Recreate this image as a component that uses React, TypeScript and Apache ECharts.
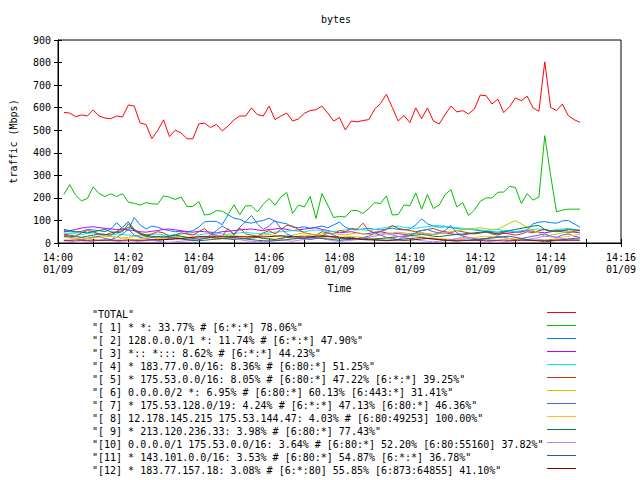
import React, { useEffect, useRef } from "react";
import * as echarts from "echarts";

const FONT = '"DejaVu Sans Mono", monospace';

const SAMPLE_STEP = 10; // seconds between samples
const FIRST_SAMPLE = 10; // first sample at 14:00:10

const xTickMinutes = ["14:00", "14:01", "14:02", "14:03", "14:04", "14:05", "14:06", "14:07", "14:08", "14:09", "14:10", "14:11", "14:12", "14:13", "14:14", "14:15", "14:16"];
const dateLabel = "01/09";

const seriesNames = [
  '"TOTAL"',
  '"[ 1] * *: 33.77% # [6:*:*] 78.06%"',
  '"[ 2] 128.0.0.0/1 *: 11.74% # [6:*:*] 47.90%"',
  '"[ 3] *:: *::: 8.62% # [6:*:*] 44.23%"',
  '"[ 4] * 183.77.0.0/16: 8.36% # [6:80:*] 51.25%"',
  '"[ 5] * 175.53.0.0/16: 8.05% # [6:80:*] 47.22% [6:*:*] 39.25%"',
  '"[ 6] 0.0.0.0/2 *: 6.95% # [6:80:*] 60.13% [6:443:*] 31.41%"',
  '"[ 7] * 175.53.128.0/19: 4.24% # [6:*:*] 47.13% [6:80:*] 46.36%"',
  '"[ 8] 12.178.145.215 175.53.144.47: 4.03% # [6:80:49253] 100.00%"',
  '"[ 9] * 213.120.236.33: 3.98% # [6:80:*] 77.43%"',
  '"[10] 0.0.0.0/1 175.53.0.0/16: 3.64% # [6:80:*] 52.20% [6:80:55160] 37.82%"',
  '"[11] * 143.101.0.0/16: 3.53% # [6:80:*] 54.87% [6:*:*] 36.78%"',
  '"[12] * 183.77.157.18: 3.08% # [6:*:80] 55.85% [6:873:64855] 41.10%"',
];

const seriesColors = ["#ff0000", "#00c000", "#0080ff", "#c000ff", "#00eeee", "#c04000", "#c8c800", "#4169e1", "#ffc020", "#008040", "#c080ff", "#306080", "#8b0000"];

const total = [
  579, 576, 560, 568, 563, 590, 563, 554, 551, 563,
  559, 612, 607, 532, 525, 463, 499, 546, 472, 500,
  488, 462, 462, 528, 531, 512, 526, 497, 518, 546,
  563, 563, 599, 569, 563, 607, 547, 563, 576, 541,
  550, 575, 587, 591, 607, 576, 541, 556, 501, 541,
  537, 543, 547, 594, 619, 659, 601, 541, 565, 534,
  599, 551, 599, 541, 528, 569, 607, 581, 587, 572,
  594, 656, 653, 616, 638, 578, 604, 643, 631, 651,
  599, 584, 803, 601, 587, 616, 565, 547, 535,
];
const s1 = [
  215, 259, 212, 187, 197, 249, 219, 206, 218, 206,
  219, 181, 176, 168, 179, 174, 172, 209, 203, 193,
  204, 162, 162, 184, 124, 128, 144, 141, 126, 169,
  126, 165, 165, 138, 172, 197, 168, 204, 224, 131,
  168, 160, 206, 109, 219, 168, 113, 118, 115, 144,
  144, 131, 153, 179, 175, 209, 124, 126, 169, 165,
  222, 150, 215, 153, 168, 215, 237, 160, 179, 122,
  146, 185, 200, 200, 225, 226, 251, 246, 175, 219,
  190, 204, 476, 300, 138, 146, 150, 150, 150,
];
const s2 = [
  55, 50, 48, 52, 60, 58, 55, 50, 62, 90,
  65, 58, 113, 80, 62, 75, 70, 60, 55, 50,
  52, 48, 55, 70, 94, 96, 96, 81, 125, 110,
  105, 92, 88, 95, 100, 110, 96, 90, 85, 70,
  68, 72, 65, 70, 75, 68, 80, 93, 70, 60,
  58, 62, 65, 60, 58, 62, 66, 60, 58, 62,
  80, 107, 85, 75, 70, 72, 68, 65, 60, 62,
  58, 55, 52, 50, 48, 52, 55, 50, 48, 60,
  85, 92, 95, 90, 88, 98, 100, 85, 70,
];
const s3 = [
  50, 55, 60, 66, 70, 72, 68, 65, 62, 60,
  60, 58, 55, 50, 48, 52, 55, 60, 62, 58,
  55, 50, 48, 52, 50, 48, 45, 50, 52, 55,
  58, 60, 62, 58, 55, 60, 62, 65, 60, 55,
  58, 62, 65, 68, 60, 55, 50, 45, 48, 50,
  45, 40, 42, 48, 50, 45, 40, 42, 38, 40,
  42, 45, 40, 38, 42, 45, 40, 38, 35, 40,
  42, 45, 48, 45, 40, 42, 45, 48, 50, 55,
  52, 48, 45, 50, 55, 58, 52, 48, 45,
];
const s4 = [
  45, 42, 40, 38, 42, 45, 40, 38, 35, 40,
  38, 35, 32, 30, 35, 38, 40, 36, 34, 38,
  40, 42, 38, 35, 40, 42, 45, 40, 38, 42,
  45, 48, 44, 42, 40, 45, 48, 50, 52, 55,
  52, 50, 55, 58, 55, 52, 50, 55, 58, 60,
  62, 58, 55, 60, 65, 70, 72, 75, 70, 68,
  65, 70, 72, 75, 78, 74, 70, 68, 65, 62,
  60, 58, 55, 58, 60, 55, 52, 50, 55, 58,
  60, 62, 58, 55, 60, 62, 65, 60, 58,
];
const s5 = [
  40, 35, 30, 45, 55, 50, 40, 35, 45, 50,
  55, 70, 60, 45, 35, 40, 50, 45, 30, 35,
  45, 40, 35, 50, 64, 40, 35, 30, 64, 35,
  66, 40, 35, 30, 45, 55, 40, 60, 78, 75,
  60, 45, 40, 35, 50, 45, 40, 55, 50, 65,
  60, 88, 55, 45, 50, 60, 78, 65, 60, 55,
  50, 55, 60, 65, 55, 50, 45, 55, 50, 45,
  40, 45, 50, 40, 35, 45, 40, 35, 40, 50,
  45, 55, 60, 50, 55, 50, 45, 52, 55,
];
const s6 = [
  25, 28, 30, 25, 22, 28, 30, 35, 28, 25,
  22, 25, 30, 35, 28, 25, 22, 20, 25, 30,
  28, 25, 22, 25, 30, 28, 25, 30, 35, 32,
  30, 28, 25, 30, 35, 38, 32, 30, 28, 35,
  40, 45, 38, 35, 40, 45, 42, 38, 35, 40,
  45, 42, 38, 35, 40, 42, 45, 48, 45, 40,
  42, 45, 40, 38, 42, 45, 50, 55, 58, 62,
  65, 68, 63, 60, 62, 75, 88, 99, 85, 70,
  55, 45, 30, 35, 40, 45, 50, 55, 60,
];
const s7 = [
  30, 25, 20, 15, 20, 25, 30, 20, 15, 25,
  40, 60, 35, 25, 20, 15, 10, 15, 20, 25,
  20, 15, 10, 15, 20, 35, 55, 75, 60, 40,
  70, 95, 122, 85, 60, 75, 100, 65, 40, 30,
  25, 20, 15, 20, 30, 45, 35, 25, 20, 15,
  20, 25, 30, 45, 35, 25, 20, 15, 30, 35,
  45, 55, 60, 50, 45, 55, 78, 45, 30, 25,
  20, 15, 20, 25, 30, 25, 20, 15, 20, 25,
  30, 35, 40, 30, 25, 35, 40, 30, 25,
];
const s8 = [
  25, 22, 20, 18, 20, 22, 25, 28, 30, 25,
  20, 18, 15, 18, 22, 25, 20, 18, 15, 20,
  22, 25, 28, 25, 20, 18, 15, 18, 20, 22,
  25, 28, 30, 25, 22, 20, 18, 22, 25, 28,
  30, 35, 32, 28, 25, 22, 20, 25, 28, 30,
  28, 25, 22, 20, 18, 22, 25, 28, 30, 32,
  30, 28, 25, 22, 20, 18, 15, 18, 20, 22,
  25, 28, 30, 28, 25, 22, 20, 18, 15, 12,
  10, 8, 12, 15, 20, 25, 30, 35, 38,
];
const s9 = [
  60, 55, 50, 48, 45, 50, 55, 60, 50, 45,
  50, 85, 55, 40, 35, 30, 28, 25, 30, 35,
  30, 25, 20, 18, 20, 25, 22, 20, 18, 15,
  18, 20, 22, 25, 20, 18, 15, 20, 25, 22,
  20, 18, 22, 25, 28, 30, 25, 20, 22, 25,
  20, 18, 15, 18, 20, 22, 25, 28, 30, 32,
  35, 38, 35, 30, 28, 32, 35, 38, 40, 42,
  45, 48, 50, 45, 42, 48, 55, 60, 65, 70,
  75, 78, 60, 55, 50, 55, 60, 58, 55,
];
const s10 = [
  10, 8, 5, 3, 5, 8, 12, 15, 10, 8,
  5, 3, 5, 8, 10, 12, 8, 5, 3, 5,
  8, 10, 15, 20, 25, 30, 35, 30, 25, 20,
  15, 10, 8, 5, 8, 10, 12, 15, 10, 8,
  12, 15, 20, 25, 20, 15, 10, 8, 10, 12,
  15, 20, 25, 30, 35, 40, 35, 30, 25, 20,
  15, 10, 8, 5, 8, 10, 15, 20, 25, 20,
  15, 10, 8, 5, 3, 5, 8, 10, 12, 15,
  20, 25, 30, 28, 25, 20, 15, 12, 10,
];
const s11 = [
  35, 30, 28, 25, 30, 35, 40, 38, 35, 50,
  70, 94, 60, 40, 30, 25, 28, 30, 25, 20,
  18, 15, 12, 10, 12, 15, 18, 20, 22, 25,
  20, 18, 15, 12, 10, 8, 10, 12, 15, 18,
  20, 22, 25, 22, 20, 18, 15, 12, 15, 18,
  20, 22, 18, 15, 12, 10, 12, 15, 18, 20,
  22, 25, 20, 18, 15, 12, 10, 8, 10, 12,
  15, 18, 20, 22, 25, 28, 30, 25, 20, 15,
  12, 10, 5, 8, 12, 15, 18, 20, 22,
];
const s12 = [
  12, 12, 13, 12, 12, 13, 12, 12, 13, 12,
  12, 13, 12, 12, 13, 14, 15, 15, 16, 18,
  20, 22, 25, 28, 28, 27, 28, 27, 28, 28,
  28, 27, 28, 28, 27, 28, 30, 32, 30, 28,
  28, 27, 28, 30, 32, 30, 28, 25, 22, 20,
  18, 15, 14, 13, 13, 12, 13, 13, 12, 13,
  15, 18, 20, 18, 15, 13, 12, 12, 13, 12,
  12, 12, 13, 12, 12, 13, 12, 12, 13, 12,
  12, 13, 12, 12, 13, 12, 12, 13, 13,
];

const seriesValues = [total, s1, s2, s3, s4, s5, s6, s7, s8, s9, s10, s11, s12];

const yMax = 900;
const yStep = 100;

export default function App() {
  const ref = useRef<HTMLDivElement>(null);

  useEffect(() => {
    if (!ref.current) return;
    const chart = echarts.init(ref.current, null, { renderer: "svg" });

    const series = seriesValues.map((vals, si) => ({
      type: "line",
      name: seriesNames[si],
      xAxisIndex: 0,
      yAxisIndex: 0,
      data: vals.map((v, i) => [FIRST_SAMPLE + i * SAMPLE_STEP, v]),
      showSymbol: false,
      symbol: "none",
      lineStyle: { color: seriesColors[si], width: 1 },
      itemStyle: { color: seriesColors[si] },
      silent: true,
    }));

    const legendGraphics: any[] = [];
    seriesNames.forEach((name, i) => {
      const y = 312.5 + i * 13;
      legendGraphics.push({
        type: "text",
        x: 92,
        y: y + 2,
        style: { text: name, font: `10px ${FONT}`, fill: "#000", textVerticalAlign: "middle", textAlign: "left" },
      });
      legendGraphics.push({
        type: "line",
        shape: { x1: 547, y1: y, x2: 576, y2: y },
        style: { stroke: seriesColors[i], lineWidth: 1 },
      });
    });

    const minuteLabel = (v: number) => {
      const idx = Math.round(v / 60);
      if (idx % 2 !== 0) return "";
      return `${xTickMinutes[idx]}\n${dateLabel}`;
    };

    chart.setOption({
      animation: false,
      backgroundColor: "#fff",
      grid: { left: 52, right: 19, top: 40, bottom: 237, show: true, borderColor: "#000", borderWidth: 1 },
      xAxis: [
        {
          type: "value",
          min: 0,
          max: (xTickMinutes.length - 1) * 60,
          interval: 60,
          position: "bottom",
          axisLine: { show: true, lineStyle: { color: "#000", width: 1 } },
          axisTick: { show: true, inside: true, length: 4, lineStyle: { color: "#000" } },
          splitLine: { show: false },
          axisLabel: { formatter: minuteLabel, color: "#000", fontFamily: FONT, fontSize: 10, lineHeight: 12, margin: 8 },
          name: "Time",
          nameLocation: "middle",
          nameGap: 40,
          nameTextStyle: { color: "#000", fontFamily: FONT, fontSize: 10 },
        },
        {
          type: "value",
          min: 0,
          max: (xTickMinutes.length - 1) * 60,
          interval: 60,
          position: "top",
          axisLine: { show: true, lineStyle: { color: "#000", width: 1 } },
          axisTick: { show: true, inside: true, length: 4, lineStyle: { color: "#000" } },
          splitLine: { show: false },
          axisLabel: { show: false },
        },
      ],
      yAxis: [
        {
          type: "value",
          min: 0,
          max: yMax,
          interval: yStep,
          position: "left",
          axisLine: { show: true, lineStyle: { color: "#000", width: 1 } },
          axisTick: { show: true, inside: true, length: 4, lineStyle: { color: "#000" } },
          splitLine: { show: false },
          axisLabel: { color: "#000", fontFamily: FONT, fontSize: 10, margin: 7 },
          name: "traffic (Mbps)",
          nameLocation: "middle",
          nameGap: 40,
          nameTextStyle: { color: "#000", fontFamily: FONT, fontSize: 10 },
        },
        {
          type: "value",
          min: 0,
          max: yMax,
          interval: yStep,
          position: "right",
          axisLine: { show: true, lineStyle: { color: "#000", width: 1 } },
          axisTick: { show: true, inside: true, length: 4, lineStyle: { color: "#000" } },
          splitLine: { show: false },
          axisLabel: { show: false },
        },
      ],
      graphic: [
        {
          type: "text",
          x: 336,
          y: 19,
          style: { text: "bytes", font: `10px ${FONT}`, fill: "#000", textAlign: "center", textVerticalAlign: "middle" },
        },
        ...legendGraphics,
      ],
      series,
    });

    return () => chart.dispose();
  }, []);

  return (
    <div style={{ position: "fixed", left: 0, top: 0, width: 640, height: 480, background: "#fff" }}>
      <div ref={ref} style={{ width: 640, height: 480 }} />
    </div>
  );
}
